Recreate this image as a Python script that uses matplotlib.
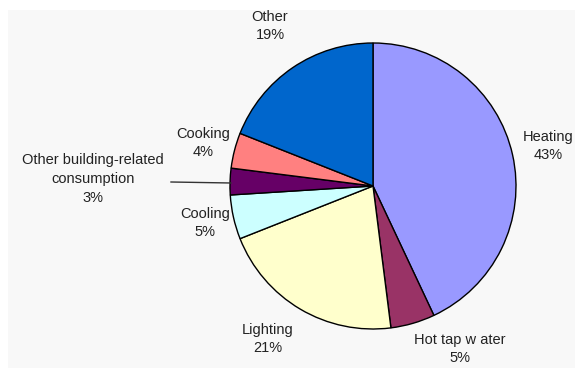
import matplotlib.pyplot as plt
from matplotlib.patches import Rectangle

# end-use shares, clockwise from 12 o'clock
categories = ["Heating", "Hot tap w ater", "Lighting", "Cooling",
              "Other building-related\nconsumption", "Cooking", "Other"]
shares = [43, 5, 21, 5, 3, 4, 19]
colors = ["#9999FF", "#993366", "#FFFFCC", "#CCFFFF",
          "#660066", "#FF8080", "#0066CC"]

# label anchor points (pixels, y up)
label_pos = [(548, 226), (460, 23), (268, 33), (205, 149),
             (93, 193), (203, 229), (270, 346)]

plt.rcParams['font.family'] = ['Liberation Sans', 'DejaVu Sans']

fig = plt.figure(figsize=(5.75, 3.72), dpi=100)
ax = fig.add_axes([0, 0, 1, 1])
ax.set_xlim(0, 575)
ax.set_ylim(0, 372)
ax.set_aspect('equal')
ax.axis('off')

ax.add_patch(Rectangle((8, 4), 570, 358, facecolor="#F8F8F8",
                       edgecolor="none", zorder=0))

ax.pie(shares, colors=colors, startangle=90, counterclock=False,
       center=(373, 186), radius=143,
       wedgeprops=dict(edgecolor="black", linewidth=1.0))
ax.set_xlim(0, 575)
ax.set_ylim(0, 372)

for name, val, (x, y) in zip(categories, shares, label_pos):
    ax.text(x, y, f"{name}\n{val}%", ha="center", va="center",
            fontsize=10.5, color="#222222", linespacing=1.45, zorder=5)

# leader line for the small slice
ax.plot([171, 231], [190, 189], color="#333333", lw=1.0, zorder=4)

fig.savefig("out.png", dpi=100)
